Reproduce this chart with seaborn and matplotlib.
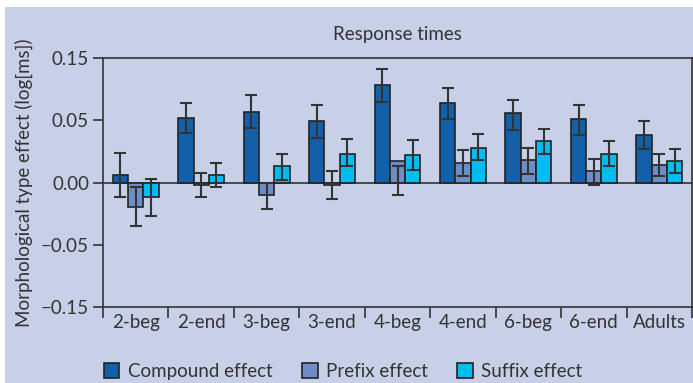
import numpy as np
import pandas as pd
import matplotlib
matplotlib.use("Agg")
import matplotlib.pyplot as plt
from matplotlib.patches import Rectangle
import seaborn as sns

## data
groups = ['2-beg', '2-end', '3-beg', '3-end', '4-beg', '4-end', '6-beg', '6-end', 'Adults']
effects = ['Compound effect', 'Prefix effect', 'Suffix effect']

compound = [0.006, 0.052, 0.057, 0.049, 0.078, 0.064, 0.056, 0.051, 0.038]
compound_lo = [-0.012, 0.040, 0.044, 0.036, 0.065, 0.051, 0.042, 0.038, 0.027]
compound_hi = [0.024, 0.064, 0.070, 0.062, 0.091, 0.076, 0.066, 0.062, 0.049]

prefix = [-0.020, -0.002, -0.010, -0.002, 0.017, 0.016, 0.018, 0.009, 0.014]
prefix_lo = [-0.035, -0.012, -0.021, -0.013, -0.010, 0.005, 0.007, -0.002, 0.005]
prefix_hi = [-0.004, 0.008, 0.000, 0.009, 0.013, 0.026, 0.028, 0.019, 0.023]

suffix = [-0.012, 0.006, 0.013, 0.023, 0.022, 0.028, 0.033, 0.023, 0.017]
suffix_lo = [-0.027, -0.004, 0.002, 0.013, 0.010, 0.018, 0.023, 0.013, 0.008]
suffix_hi = [0.003, 0.016, 0.023, 0.035, 0.034, 0.039, 0.043, 0.033, 0.027]

# axis labels as printed in the figure (spacing is not linear in the original)
ytick_pos = [-0.10, -0.05, 0.0, 0.05, 0.10]
ytick_labels = ['\u22120.15', '\u22120.05', '0.00', '0.05', '0.15']

colors = ['#1360a8', '#6e8cc6', '#00bdf0']
bg = '#c8d0e8'
fs = 13.5

df = pd.DataFrame({
    'group': groups * 3,
    'effect': np.repeat(effects, len(groups)),
    'value': compound + prefix + suffix,
})
intervals = [(compound_lo, compound_hi), (prefix_lo, prefix_hi), (suffix_lo, suffix_hi)]

sns.set_style('ticks')
plt.rcParams['font.family'] = ['Lato', 'DejaVu Sans']

fig = plt.figure(figsize=(6.93, 3.83), dpi=100, facecolor='white')
fig.patches.append(Rectangle((5 / 693, 0), 1, 376 / 383, transform=fig.transFigure,
                             facecolor=bg, edgecolor='none', zorder=-10))
ax = fig.add_axes([103 / 693, 76 / 383, 589 / 693, 249 / 383])
ax.set_facecolor(bg)

sns.barplot(data=df, x='group', y='value', hue='effect', palette=colors,
            saturation=1, errorbar=None, width=0.7, edgecolor='#222222', linewidth=1.2,
            ax=ax, legend=True, zorder=3)

# error bars from the read intervals
for cont, (lo, hi) in zip(ax.containers, intervals):
    xs = [b.get_x() + b.get_width() / 2 for b in cont]
    lo = np.array(lo)
    hi = np.array(hi)
    ax.errorbar(xs, (lo + hi) / 2, yerr=(hi - lo) / 2, fmt='none',
                ecolor='#333333', elinewidth=1.5, capsize=4, capthick=1.5, zorder=4)

ax.axhline(0, color='#333333', lw=1.2, zorder=2)
ax.set_xlim(-0.5, len(groups) - 0.5)
ax.set_ylim(-0.10, 0.10)
ax.set_yticks(ytick_pos)
ax.set_yticklabels(ytick_labels, fontsize=fs, color='#333333')
ax.set_xticks(range(len(groups)))
ax.set_xticklabels(groups, fontsize=fs, color='#333333')
ax.set_xticks(np.arange(-0.5, len(groups)), minor=True)
ax.tick_params(axis='x', which='major', length=0, pad=5)
ax.tick_params(axis='x', which='minor', length=8, width=1.2, color='#333333')
ax.tick_params(axis='y', length=7, width=1.2, color='#333333', pad=3)
for s in ax.spines.values():
    s.set_visible(True)
    s.set_color('#333333')
    s.set_linewidth(1.2)
ax.set_xlabel('')
ax.set_ylabel('Morphological type effect (log[ms])', fontsize=fs, color='#333333', labelpad=6)
ax.set_title('Response times', fontsize=fs, color='#333333', pad=13)

handles, labels = ax.get_legend_handles_labels()
ax.get_legend().remove()
fig.legend(handles, labels, loc='lower left', bbox_to_anchor=(0.125, -0.035), ncol=3,
           frameon=False, fontsize=fs, handlelength=0.85, handleheight=0.85,
           columnspacing=1.55, handletextpad=0.45, labelcolor='#333333')

fig.savefig('out.png', dpi=100, facecolor=fig.get_facecolor())
